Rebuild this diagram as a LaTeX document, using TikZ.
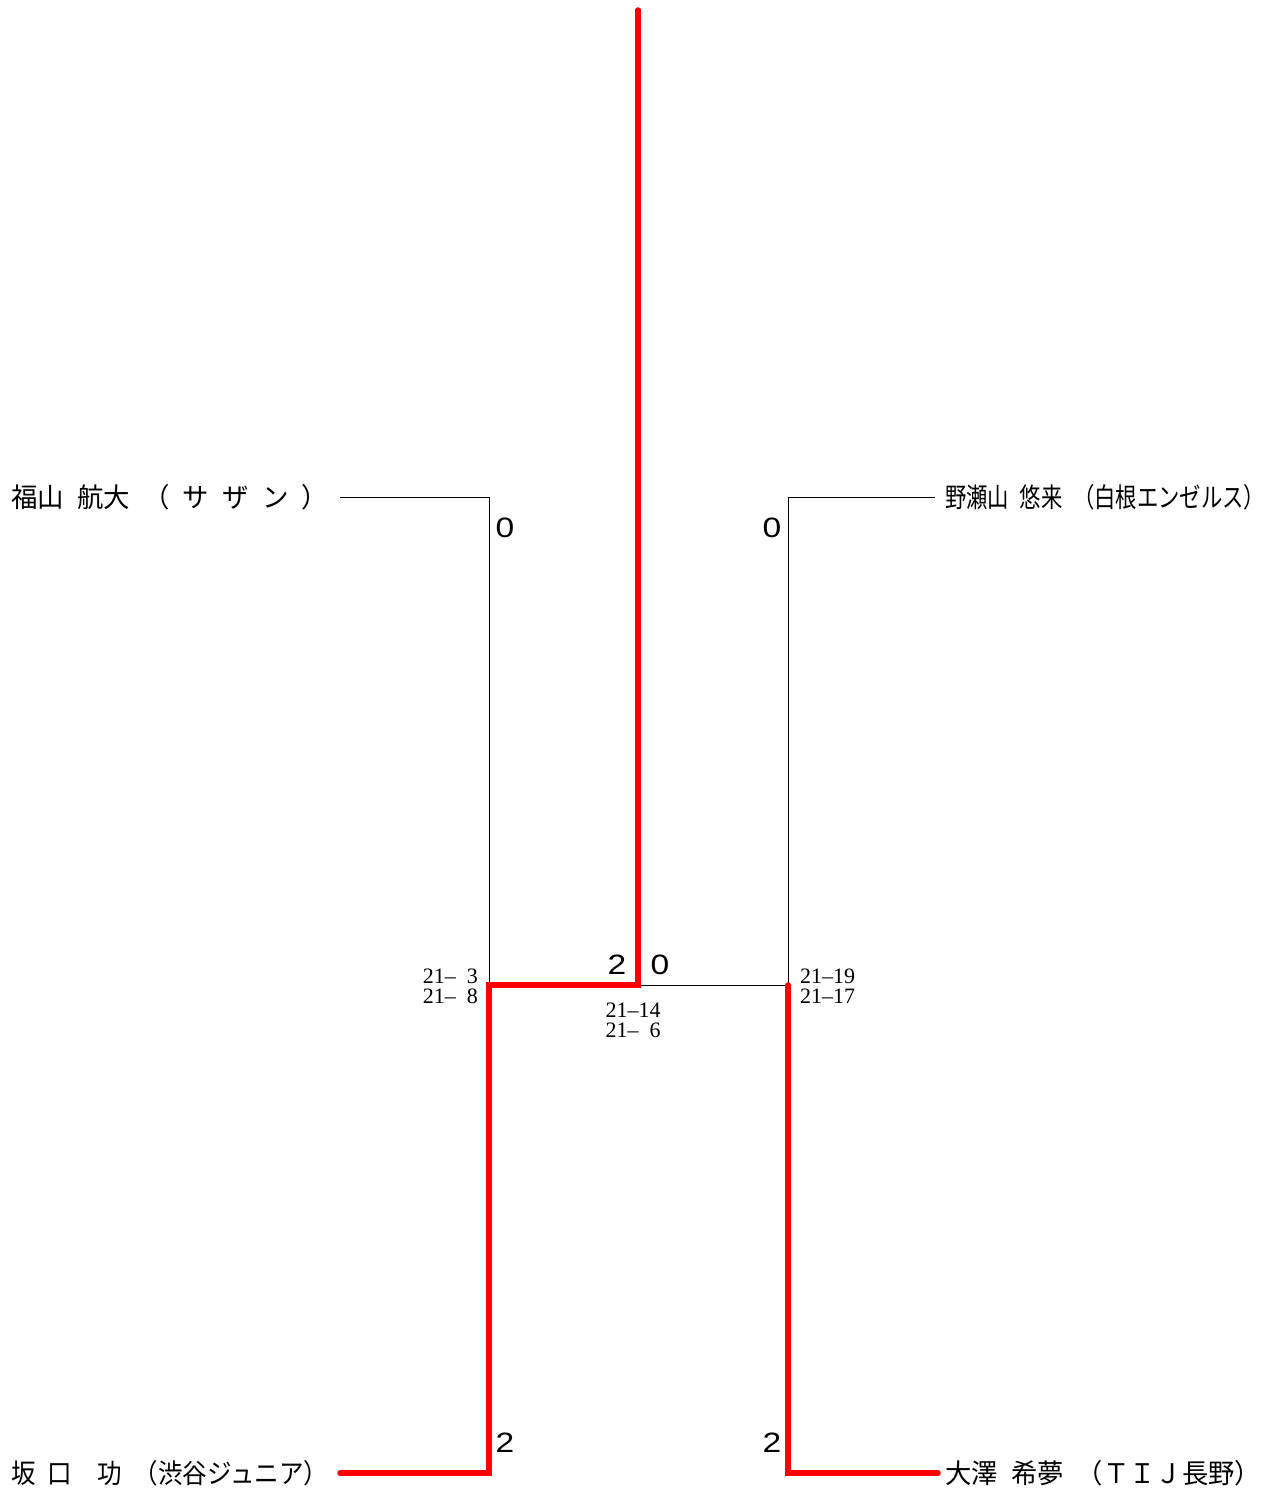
\documentclass[tikz,border=0pt]{standalone}
\usepackage{fontspec}
\usepackage{graphicx}
\newfontfamily\cjk{Noto Sans CJK JP}
\newfontfamily\digitfont{Liberation Sans}
\newfontfamily\scfont{Liberation Serif}
\newcommand\hs{\hspace{0.5em}}
\newcommand\mc[1]{\makebox[11pt]{#1}}
\newcommand\md{\makebox[11pt]{–}}
\newcommand\gd[1]{\scalebox{1.2}[1]{#1}}
\tikzset{
  win/.style={draw=red, line width=5.5pt, line cap=round, line join=miter},
  lose/.style={draw=black, line width=1pt},
  player/.style={inner sep=0pt, anchor=west, font=\cjk\fontsize{27}{30}\selectfont},
  gscore/.style={inner sep=0pt, font=\digitfont\fontsize{28}{30}\selectfont},
  pscore/.style={inner sep=0pt, font=\scfont\fontsize{22}{22}\selectfont, align=left},
}
\begin{document}
\begin{tikzpicture}[x=1pt,y=-1pt]
\useasboundingbox (0,0) rectangle (1266,1493);
% names
\node[player] (n1) at (11,497) {\resizebox{317pt}{\height}{福山\hs 航大\hs （\hs サ\hs ザ\hs ン\hs ）}};
\node[player] (n2) at (945,497) {\resizebox{320pt}{\height}{野瀬山\hs 悠来\hs （白根エンゼルス）}};
\node[player] (n3) at (11,1473) {\resizebox{317pt}{\height}{坂\hs 口\hs\hs 功\hs （渋谷ジュニア）}};
\node[player] (n4) at (945,1473) {\resizebox{316pt}{\height}{大澤\hs 希夢\hs （ＴＩＪ長野）}};
% coordinates
\coordinate (a1) at (340,497);
\coordinate (a2) at (489,497);
\coordinate (b1) at (935,497);
\coordinate (b2) at (788,497);
\coordinate (c1) at (340,1473);
\coordinate (c2) at (489,1473);
\coordinate (d1) at (938,1473);
\coordinate (d2) at (788,1473);
\coordinate (L) at (489,985);
\coordinate (R) at (788,985);
\coordinate (M) at (638,985);
\coordinate (top) at (638,10);
% losing lines
\draw[lose] (a1) -- (a2) -- (L);
\draw[lose] (b1) -- (b2) -- (R);
\draw[lose] (M) -- (R);
% winning lines
\draw[win] (c1) -- (c2) -- (L) -- (M) -- (top);
\draw[win] (R) -- (d2) -- (d1);
% game scores
\node[gscore] (s1) at (505,528) {\gd0};
\node[gscore] (s2) at (772,528) {\gd0};
\node[gscore] (s3) at (617,965) {\gd2};
\node[gscore] (s4) at (660,965) {\gd0};
\node[gscore] (s5) at (505,1443) {\gd2};
\node[gscore] (s6) at (772,1443) {\gd2};
% point scores
\node[pscore, anchor=east] (p1) at (478,986) {\mc2\mc1\md\mc{}\mc3\\[-2pt]\mc2\mc1\md\mc{}\mc8};
\node[pscore] (p2) at (633,1020) {\mc2\mc1\md\mc1\mc4\\[-2pt]\mc2\mc1\md\mc{}\mc6};
\node[pscore, anchor=west] (p3) at (800,986) {\mc2\mc1\md\mc1\mc9\\[-2pt]\mc2\mc1\md\mc1\mc7};
\end{tikzpicture}
\end{document}
